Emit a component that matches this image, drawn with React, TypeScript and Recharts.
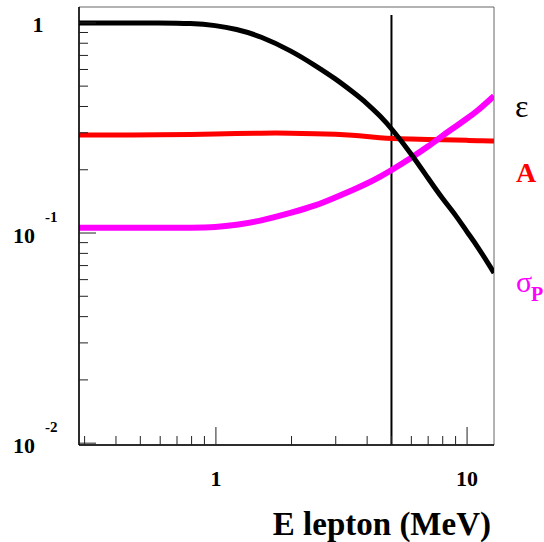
import { ComposedChart, Line, XAxis, YAxis, ReferenceLine, ReferenceArea } from 'recharts';

// (log-log)
const energy = [0.285, 0.4, 0.6, 0.8, 1, 1.2, 1.5, 2, 2.5, 3, 3.5, 4, 4.5, 5, 6, 7, 8, 9, 10, 11, 12.8];
const efficiency = [1.0, 1.0, 1.0, 0.995, 0.973, 0.936, 0.867, 0.736, 0.624, 0.541, 0.47, 0.414, 0.361, 0.315, 0.238, 0.182, 0.145, 0.122, 0.101, 0.0866, 0.0646];
const acceptance = [0.293, 0.293, 0.293, 0.294, 0.296, 0.297, 0.299, 0.299, 0.297, 0.295, 0.292, 0.288, 0.284, 0.281, 0.28, 0.279, 0.278, 0.277, 0.276, 0.275, 0.274];
const sigmaP = [0.106, 0.106, 0.106, 0.106, 0.1065, 0.109, 0.114, 0.125, 0.135, 0.148, 0.16, 0.172, 0.185, 0.199, 0.228, 0.258, 0.291, 0.321, 0.351, 0.381, 0.449];

const xTicks = [0.3, 0.4, 0.5, 0.6, 0.7, 0.8, 0.9, 1, 2, 3, 4, 5, 6, 7, 8, 9, 10];
const yTicks = [
  0.01, 0.02, 0.03, 0.04, 0.05, 0.06, 0.07, 0.08, 0.09,
  0.1, 0.2, 0.3, 0.4, 0.5, 0.6, 0.7, 0.8, 0.9, 1,
];

const data = energy.map((e, i) => ({
  e,
  eff: efficiency[i],
  acc: acceptance[i],
  sig: sigmaP[i],
}));

const FONT = '"Liberation Serif", "Times New Roman", serif';

function XTick({ x, y, payload }: any) {
  const v = payload.value;
  const major = v === 1 || v === 10;
  return (
    <g>
      <line x1={x} x2={x} y1={y} y2={y - (major ? 18 : 9)} stroke="#222" strokeWidth={1} />
      {major && (
        <text x={x} y={y + 41} textAnchor="middle" fontFamily={FONT} fontWeight="bold" fontSize={22} fill="#000">
          {v}
        </text>
      )}
    </g>
  );
}

function YTick({ x, y, payload }: any) {
  const v = payload.value;
  const major = v === 1 || v === 0.1 || v === 0.01;
  let label = null;
  if (v === 1) {
    label = (
      <text x={38} y={y + 9} textAnchor="middle" fontFamily={FONT} fontWeight="bold" fontSize={22} fill="#000">
        1
      </text>
    );
  } else if (major) {
    label = (
      <g fontFamily={FONT} fontWeight="bold" fill="#000">
        <text x={13} y={y + 10} fontSize={22}>10</text>
        <text x={45} y={y - 11} fontSize={15}>{v === 0.1 ? '-1' : '-2'}</text>
      </g>
    );
  }
  return (
    <g>
      <line x1={x} x2={x + (major ? 17 : 9)} y1={y} y2={y} stroke="#222" strokeWidth={1} />
      {label}
    </g>
  );
}

export default function App() {
  return (
    <div style={{ position: 'relative', width: 544, height: 542 }}>
      <style>{'body{margin:0}'}</style>
      <ComposedChart
        width={544}
        height={542}
        data={data}
        margin={{ top: 7, right: 50, bottom: 0, left: 0 }}
      >
        <XAxis
          dataKey="e"
          type="number"
          scale="log"
          domain={[0.285, 12.8]}
          allowDataOverflow
          ticks={xTicks}
          interval={0}
          tick={(p: any) => <XTick {...p} />}
          tickLine={false}
          tickSize={0}
          tickMargin={0}
          height={97}
          axisLine={{ stroke: '#000', strokeWidth: 1.5 }}
        />
        <YAxis
          type="number"
          scale="log"
          domain={[0.0098, 1.19]}
          allowDataOverflow
          ticks={yTicks}
          interval={0}
          tick={(p: any) => <YTick {...p} />}
          tickLine={false}
          tickSize={0}
          tickMargin={0}
          width={79}
          axisLine={{ stroke: '#000', strokeWidth: 1.5 }}
        />
        <ReferenceArea
          x1={0.285}
          x2={12.8}
          y1={0.0098}
          y2={1.19}
          fill="none"
          stroke="#666"
          strokeWidth={1}
          ifOverflow="visible"
        />
        <ReferenceLine
          segment={[{ x: 5, y: 1.09 }, { x: 5, y: 0.0098 }]}
          stroke="#000"
          strokeWidth={2}
          ifOverflow="visible"
        />
        <Line type="basis" dataKey="acc" stroke="#ff0000" strokeWidth={5} dot={false} isAnimationActive={false} />
        <Line type="basis" dataKey="sig" stroke="#ff00ff" strokeWidth={6} dot={false} isAnimationActive={false} />
        <Line type="basis" dataKey="eff" stroke="#000000" strokeWidth={5} dot={false} isAnimationActive={false} />
      </ComposedChart>
      <svg
        width={544}
        height={542}
        style={{ position: 'absolute', top: 0, left: 0, pointerEvents: 'none' }}
      >
        <text x={515} y={117} fontFamily={FONT} fontSize={32} fill="#000">ε</text>
        <text x={516} y={182} fontFamily={FONT} fontWeight="bold" fontSize={28} fill="#ff0000">A</text>
        <text x={516} y={292} fontFamily={FONT} fontSize={30} fill="#ff00ff">σ</text>
        <text x={531} y={301} fontFamily={FONT} fontWeight="bold" fontSize={20} fill="#ff00ff">P</text>
        <text x={491} y={535} textAnchor="end" fontFamily={FONT} fontWeight="bold" fontSize={33} fill="#000">
          E lepton (MeV)
        </text>
      </svg>
    </div>
  );
}
